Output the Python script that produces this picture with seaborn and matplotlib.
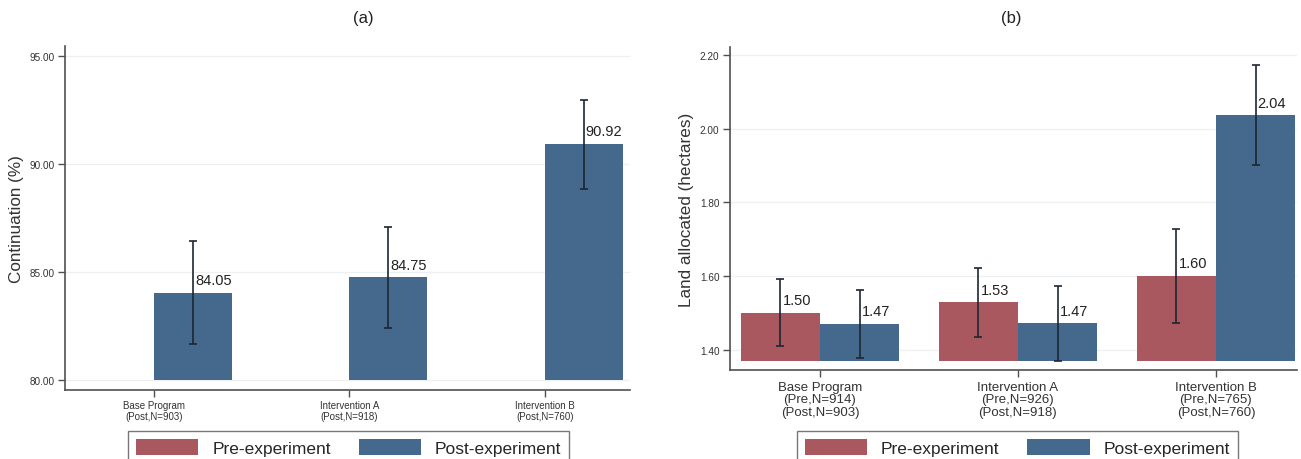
import matplotlib
matplotlib.use("Agg")
import matplotlib.pyplot as plt
from matplotlib.patches import Patch
import pandas as pd
import seaborn as sns

# ---------------------------------------------------------------------------
# Data
# ---------------------------------------------------------------------------
categories = ["Base Program", "Intervention A", "Intervention B"]
groups = ["Pre-experiment", "Post-experiment"]

labels_a = ["Base Program\n(Post,N=903)",
            "Intervention A\n(Post,N=918)",
            "Intervention B\n(Post,N=760)"]
labels_b = ["Base Program\n(Pre,N=914)\n(Post,N=903)",
            "Intervention A\n(Pre,N=926)\n(Post,N=918)",
            "Intervention B\n(Pre,N=765)\n(Post,N=760)"]

# (a) continuation, post-experiment only
cont_post = [84.05, 84.75, 90.92]
cont_post_lo = [81.65, 82.41, 88.86]
cont_post_hi = [86.45, 87.08, 92.97]

# (b) land allocated
land_pre = [1.501, 1.530, 1.601]
land_pre_lo = [1.411, 1.436, 1.474]
land_pre_hi = [1.594, 1.622, 1.729]
land_post = [1.472, 1.473, 2.036]
land_post_lo = [1.379, 1.372, 1.902]
land_post_hi = [1.563, 1.574, 2.171]

BASE_A = 80.0
BASE_B = 1.372

PRE_COLOR = "#a9585f"
POST_COLOR = "#45698c"
ERR_COLOR = "#1c2733"
GRID_COLOR = "#edf1f3"
SPINE_COLOR = "#505050"

sns.set_theme(style="white")
plt.rcParams["font.family"] = ["Liberation Sans", "DejaVu Sans"]

# long tables for seaborn
df_a = pd.DataFrame({
    "program": categories,
    "group": "Post-experiment",
    "value": cont_post,
    "lo": cont_post_lo,
    "hi": cont_post_hi,
})
df_a["height"] = df_a["value"] - BASE_A

df_b = pd.concat([
    pd.DataFrame({"program": categories, "group": "Pre-experiment",
                  "value": land_pre, "lo": land_pre_lo, "hi": land_pre_hi}),
    pd.DataFrame({"program": categories, "group": "Post-experiment",
                  "value": land_post, "lo": land_post_lo, "hi": land_post_hi}),
], ignore_index=True)
df_b["height"] = df_b["value"] - BASE_B

fig = plt.figure(figsize=(13.01, 4.6), dpi=100)
ax_a = fig.add_axes([0.050, 0.150, 0.434, 0.748])
ax_b = fig.add_axes([0.561, 0.193, 0.436, 0.703])


def draw_panel(ax, df, base, xlabels, xtick_size, ylabel, yticks, ylim, xlim):
    sns.barplot(data=df, x="program", y="height", hue="group",
                order=categories, hue_order=groups, dodge=True,
                palette={"Pre-experiment": PRE_COLOR, "Post-experiment": POST_COLOR},
                errorbar=None, legend=False, bottom=base, saturation=1,
                linewidth=0, ax=ax)
    # match each bar to its row by position
    for p in ax.patches:
        if p.get_width() == 0:
            continue
        cx = p.get_x() + p.get_width() / 2
        ci = int(round(cx))
        grp = "Pre-experiment" if cx < ci else "Post-experiment"
        row = df[(df["program"] == categories[ci]) & (df["group"] == grp)]
        if row.empty:
            continue
        r = row.iloc[0]
        ax.errorbar(cx, r["value"],
                    yerr=[[r["value"] - r["lo"]], [r["hi"] - r["value"]]],
                    fmt="none", ecolor=ERR_COLOR, elinewidth=1.2,
                    capsize=3, capthick=1.2, zorder=4)
        ax.annotate(f"{r['value']:.2f}", (cx, r["value"]),
                    xytext=(1.5, 4), textcoords="offset points",
                    ha="left", va="bottom", fontsize=10.5, color="#222222",
                    zorder=5)

    ax.set_xlim(*xlim)
    ax.set_ylim(*ylim)
    ax.set_yticks(yticks)
    ax.set_yticklabels([f"{v:.2f}" for v in yticks], fontsize=7.2, color="#333333")
    ax.set_xticks(range(len(categories)))
    ax.set_xticklabels(xlabels, fontsize=xtick_size, color="#333333", linespacing=1.05)
    ax.set_xlabel("")
    ax.set_ylabel(ylabel, fontsize=12.3, color="#333333")
    ax.yaxis.grid(True, color=GRID_COLOR, linewidth=1.0)
    ax.set_axisbelow(True)
    ax.tick_params(axis="both", which="major", direction="out", length=5,
                   width=1, color=SPINE_COLOR, left=True, bottom=True, pad=2.5)
    for side in ["top", "right"]:
        ax.spines[side].set_visible(False)
    for side in ["left", "bottom"]:
        ax.spines[side].set_color(SPINE_COLOR)
        ax.spines[side].set_linewidth(1.2)


draw_panel(ax_a, df_a, BASE_A, labels_a, 7, "Continuation (%)",
           [80, 85, 90, 95], (79.54, 95.46), (-0.455, 2.435))
draw_panel(ax_b, df_b, BASE_B, labels_b, 9.5, "Land allocated (hectares)",
           [1.40, 1.60, 1.80, 2.00, 2.20], (1.346, 2.221), (-0.455, 2.41))

fig.text(0.279, 0.96, "(a)", ha="center", va="center", fontsize=12, color="#222222")
fig.text(0.777, 0.96, "(b)", ha="center", va="center", fontsize=12, color="#222222")

handles = [Patch(facecolor=PRE_COLOR, edgecolor="none", label="Pre-experiment"),
           Patch(facecolor=POST_COLOR, edgecolor="none", label="Post-experiment")]
for cx in [0.268, 0.782]:
    fig.legend(handles=handles, loc="upper center", bbox_to_anchor=(cx, 0.060),
               ncol=2, frameon=True, fancybox=False, edgecolor="#777777",
               fontsize=12.5, handlelength=3.6, handleheight=1.0,
               columnspacing=1.6, handletextpad=0.8, borderpad=0.45,
               borderaxespad=0, framealpha=1)

fig.savefig("out.png", dpi=100)
